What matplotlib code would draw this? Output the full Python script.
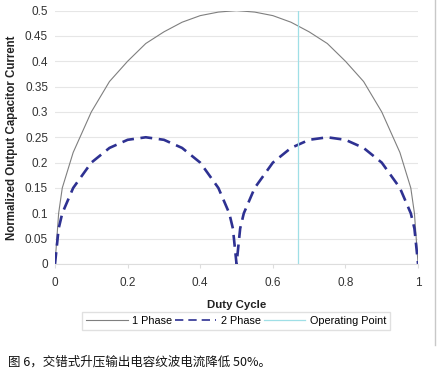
import matplotlib
matplotlib.use("Agg")
import matplotlib.pyplot as plt
from matplotlib.lines import Line2D

# duty cycle samples and normalized ripple currents
duty = [0.0, 0.01, 0.02, 0.05, 0.1, 0.15, 0.2, 0.25, 0.3, 0.35, 0.4, 0.45, 0.5,
        0.55, 0.6, 0.65, 0.7, 0.75, 0.8, 0.85, 0.9, 0.95, 0.98, 0.99, 1.0]
one_phase = [0.0, 0.10, 0.15, 0.22, 0.30, 0.36, 0.40, 0.435, 0.458, 0.477, 0.49, 0.497, 0.5,
             0.497, 0.49, 0.477, 0.458, 0.435, 0.40, 0.36, 0.30, 0.22, 0.15, 0.10, 0.0]
duty2 = [0.0, 0.01, 0.02, 0.05, 0.1, 0.15, 0.2, 0.25, 0.3, 0.35, 0.4, 0.45, 0.48, 0.49, 0.5,
         0.51, 0.52, 0.55, 0.6, 0.65, 0.7, 0.75, 0.8, 0.85, 0.9, 0.95, 0.98, 0.99, 1.0]
two_phase = [0.0, 0.07, 0.10, 0.15, 0.20, 0.229, 0.245, 0.25, 0.245, 0.229, 0.20, 0.15, 0.10, 0.07, 0.0,
             0.07, 0.10, 0.15, 0.20, 0.229, 0.245, 0.25, 0.245, 0.229, 0.20, 0.15, 0.10, 0.07, 0.0]
operating_point = 0.67

yticks = [0, 0.05, 0.1, 0.15, 0.2, 0.25, 0.3, 0.35, 0.4, 0.45, 0.5]
xticks = [0, 0.2, 0.4, 0.6, 0.8, 1]

plt.rcParams["font.family"] = ["Liberation Sans", "DejaVu Sans"]

fig = plt.figure(figsize=(4.39, 3.84), dpi=100)
ax = fig.add_axes([0.1253, 0.3125, 0.827, 0.66])

ax.plot(duty, one_phase, color="#7f7f7f", lw=0.8, label="1 Phase")
ax.plot(duty2, two_phase, color="#2e3192", lw=1.9, ls=(0, (4.5, 2.5)), label="2 Phase")
ax.axvline(operating_point, color="#9fdfe6", lw=0.9, label="Operating Point")

ax.set_xlim(0, 1)
ax.set_ylim(0, 0.5)
ax.set_yticks(yticks)
ax.set_yticklabels([f"{v:g}" for v in yticks])
ax.set_xticks(xticks)
ax.set_xticklabels([f"{v:g}" for v in xticks])
ax.tick_params(axis="y", length=0, labelsize=8.5, labelcolor="#333333", pad=5)
ax.tick_params(axis="x", length=3, color="#dddddd", labelsize=8.5, labelcolor="#333333", pad=6)
ax.grid(axis="y", color="#e6e6e6", lw=0.8)
for s in ["top", "right", "left"]:
    ax.spines[s].set_visible(False)
ax.spines["bottom"].set_color("#dddddd")

ax.set_ylabel("Normalized Output Capacitor Current", fontsize=8.3, fontweight="bold",
              color="#222222", labelpad=5)
ax.set_xlabel("Duty Cycle", fontsize=8.2, fontweight="bold", color="#222222", labelpad=8)

handles = [Line2D([], [], color="#7f7f7f", lw=0.8),
           Line2D([], [], color="#2e3192", lw=1.2, ls=(0, (5, 3))),
           Line2D([], [], color="#9fdfe6", lw=0.9)]
fig.legend(handles, ["1 Phase", "2 Phase", "Operating Point"], loc="center",
           bbox_to_anchor=(0.538, 0.164), ncol=3, fontsize=7.8, frameon=True,
           fancybox=False, edgecolor="#d9d9d9", handlelength=3.8, columnspacing=0.3,
           handletextpad=0.4, borderpad=0.4)

# chart border line on the right
fig.add_artist(Line2D([435 / 439, 435 / 439], [1, 1 - 345 / 384], color="#c8c8c8",
                      lw=1, transform=fig.transFigure))

fig.text(8 / 439, 1 - 362 / 384, "图 6，交错式升压输出电容纹波电流降低 50%。", fontsize=9,
         family=["Noto Sans CJK SC", "DejaVu Sans"], va="center", ha="left", color="#111111")

fig.savefig("out.png", dpi=100)
